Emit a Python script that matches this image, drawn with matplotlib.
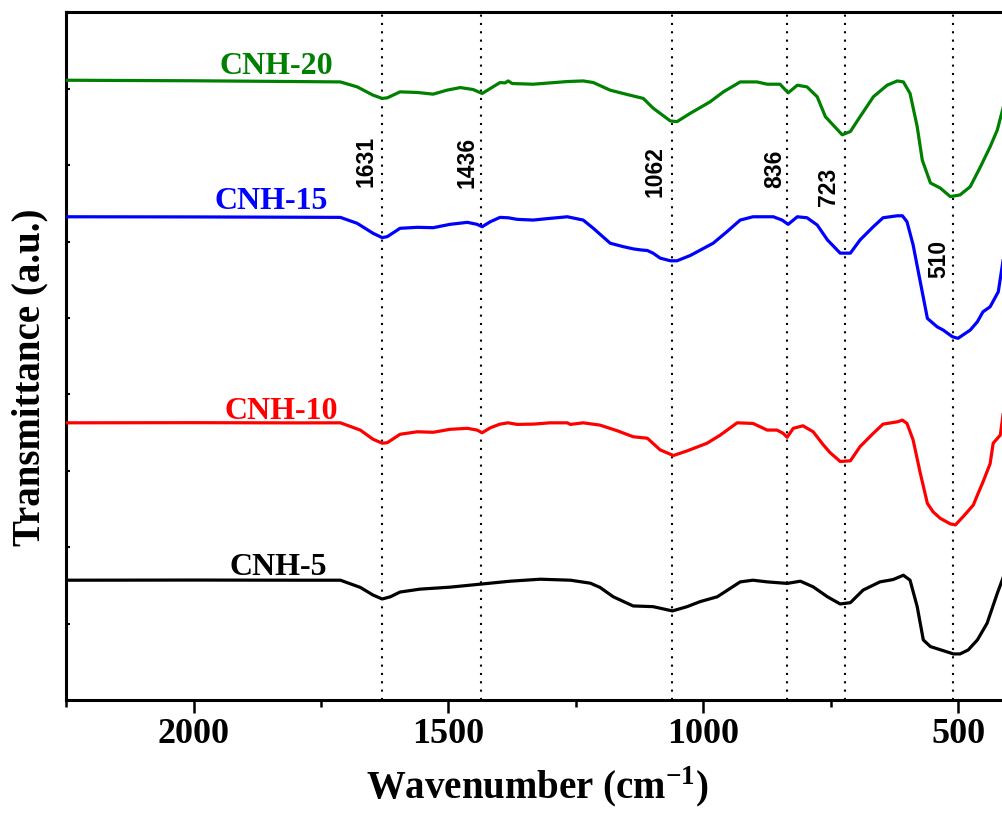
import numpy as np
import matplotlib
matplotlib.use('Agg')
import matplotlib.pyplot as plt
from matplotlib.ticker import MultipleLocator

plt.rcParams['font.family'] = 'Liberation Serif'
plt.rcParams['font.weight'] = 'bold'
plt.rcParams['mathtext.fontset'] = 'custom'
plt.rcParams['mathtext.rm'] = 'Liberation Serif:bold'
plt.rcParams['mathtext.bf'] = 'Liberation Serif:bold'

# ---------------- data (stacked/offset spectra) ----------------
w_cnh20 = [2250, 2000, 1800, 1712, 1679, 1648, 1630, 1620, 1595, 1561, 1530, 1503, 1477, 1452,
           1434, 1418, 1399, 1389, 1383, 1375, 1334, 1267, 1236, 1216, 1183, 1150, 1118, 1099,
           1065, 1052, 1026, 987, 961, 928, 895, 875, 850, 834, 816, 797, 777, 761, 746, 728,
           712, 693, 667, 640, 620, 608, 595, 581, 571, 555, 536, 516, 497, 477, 457, 438, 424, 412]
t_cnh20 = [8.112, 8.105, 8.095, 8.090, 8.025, 7.917, 7.874, 7.882, 7.960, 7.952, 7.930, 7.982, 8.016, 7.991,
           7.939, 8.004, 8.082, 8.077, 8.103, 8.069, 8.060, 8.095, 8.103, 8.082, 7.982, 7.926, 7.874, 7.748,
           7.579, 7.570, 7.679, 7.830, 7.960, 8.090, 8.090, 8.060, 8.060, 7.947, 8.047, 8.025, 7.895, 7.635, 7.527, 7.398,
           7.441, 7.635, 7.895, 8.047, 8.103, 8.090, 7.939, 7.505, 7.066, 6.767, 6.702, 6.589, 6.611, 6.719, 6.979, 7.241, 7.460, 7.765]

w_cnh15 = [2250, 2000, 1800, 1712, 1679, 1648, 1630, 1620, 1595, 1561, 1530, 1497, 1463, 1444,
           1434, 1418, 1399, 1383, 1365, 1334, 1301, 1267, 1236, 1216, 1183, 1158, 1138, 1124, 1110,
           1099, 1085, 1065, 1052, 1026, 981, 954, 928, 903, 863, 846, 834, 816, 797, 777, 757, 732,
           712, 693, 667, 648, 620, 610, 601, 589, 575, 561, 542, 530, 512, 501, 477, 463, 452, 438, 422, 412]
t_cnh15 = [6.325, 6.323, 6.319, 6.317, 6.239, 6.109, 6.052, 6.065, 6.174, 6.187, 6.182, 6.226, 6.252, 6.226,
           6.195, 6.260, 6.317, 6.312, 6.291, 6.282, 6.304, 6.325, 6.282, 6.174, 5.979, 5.935, 5.905, 5.892, 5.883,
           5.849, 5.784, 5.749, 5.749, 5.818, 5.979, 6.130, 6.282, 6.325, 6.325, 6.282, 6.226, 6.325, 6.312, 6.217, 6.022, 5.849,
           5.849, 6.022, 6.195, 6.312, 6.338, 6.338, 6.260, 5.957, 5.475, 4.995, 4.885, 4.842, 4.755, 4.734, 4.842, 4.951, 5.081, 5.147, 5.343, 5.780]

w_cnh10 = [2250, 2000, 1800, 1712, 1673, 1648, 1630, 1620, 1595, 1561, 1530, 1497, 1463, 1444,
           1434, 1418, 1399, 1383, 1365, 1334, 1301, 1267, 1261, 1236, 1203, 1169, 1138, 1110, 1085,
           1059, 1032, 993, 967, 934, 903, 875, 856, 844, 836, 824, 805, 785, 765, 752, 732, 712,
           693, 667, 648, 620, 610, 601, 589, 575, 561, 550, 536, 516, 506, 491, 471, 463, 452, 438, 432, 418, 412]
t_cnh10 = [3.628, 3.630, 3.627, 3.628, 3.533, 3.413, 3.361, 3.368, 3.478, 3.511, 3.504, 3.543, 3.556, 3.533,
           3.498, 3.563, 3.611, 3.628, 3.607, 3.611, 3.628, 3.628, 3.607, 3.628, 3.598, 3.524, 3.446, 3.426, 3.274,
           3.200, 3.261, 3.361, 3.468, 3.628, 3.620, 3.533, 3.533, 3.491, 3.439, 3.556, 3.589, 3.511, 3.339, 3.239, 3.122, 3.131,
           3.317, 3.491, 3.611, 3.641, 3.663, 3.620, 3.404, 2.971, 2.573, 2.464, 2.379, 2.305, 2.292, 2.399, 2.551, 2.681, 2.854, 3.093, 3.361, 3.468, 3.771]

w_cnh5 = [2250, 2000, 1800, 1712, 1673, 1648, 1630, 1614, 1595, 1556, 1497, 1438, 1379, 1320,
          1261, 1222, 1203, 1177, 1138, 1099, 1061, 1032, 1007, 973, 928, 903, 875, 836, 810,
          785, 757, 732, 712, 687, 654, 628, 608, 595, 581, 569, 555, 530, 510, 497, 481, 463, 444, 424, 412]
t_cnh5 = [1.568, 1.570, 1.568, 1.568, 1.474, 1.374, 1.322, 1.351, 1.413, 1.451, 1.477, 1.516, 1.555, 1.581,
          1.568, 1.529, 1.474, 1.351, 1.231, 1.222, 1.166, 1.222, 1.287, 1.351, 1.546, 1.568, 1.546, 1.526, 1.555,
          1.481, 1.351, 1.257, 1.274, 1.439, 1.546, 1.577, 1.633, 1.568, 1.222, 0.786, 0.699, 0.646, 0.603, 0.603, 0.655, 0.786, 1.004, 1.395, 1.611]

names = ['CNH-5', 'CNH-10', 'CNH-15', 'CNH-20']
colors = ['black', '#ff0000', '#0000ff', '#008000']
name_x = [1834, 1828, 1848, 1838]
name_y = [1.636, 3.678, 6.427, 8.194]

peaks = [1631, 1436, 1062, 836, 723, 510]
peak_lab_x = [1661, 1463, 1095, 861, 754, 538]
peak_lab_y = [7.055, 7.042, 6.911, 6.950, 6.715, 5.772]

# ---------------- plot ----------------
fig = plt.figure(figsize=(10.03, 8.13), dpi=100)
ax = fig.add_axes([66/1003, 113/813, 943.5/1003, 687.6/813])

for p in peaks:
    ax.axvline(p, color='black', lw=1.5, ls=(0, (1, 3)), zorder=1)

xs = [w_cnh5, w_cnh10, w_cnh15, w_cnh20]
ys = [t_cnh5, t_cnh10, t_cnh15, t_cnh20]
for i in range(4):
    ax.plot(xs[i], ys[i], color=colors[i], lw=2.3, zorder=3, solid_joinstyle='round')
    ax.text(name_x[i], name_y[i], names[i], color=colors[i], fontsize=23,
            fontweight='bold', ha='center', va='baseline')

for i in range(len(peaks)):
    ax.text(peak_lab_x[i], peak_lab_y[i], str(peaks[i]), rotation=90, fontsize=16.5,
            family='Liberation Sans', fontweight='bold', ha='center', va='center')

ax.set_xlim(2250, 400)
ax.set_ylim(0, 9)
ax.xaxis.set_major_locator(MultipleLocator(500))
ax.xaxis.set_minor_locator(MultipleLocator(250))
ax.yaxis.set_major_locator(MultipleLocator(1))
ax.tick_params(axis='x', which='major', direction='out', length=9, width=1.8,
               labelsize=26, pad=4)
ax.tick_params(axis='x', which='minor', direction='out', length=5, width=1.8)
ax.tick_params(axis='y', which='major', direction='in', length=3, width=1.5, labelleft=False)
for s in ax.spines.values():
    s.set_linewidth(2.2)

ax.set_xlabel(r'Wavenumber (cm$^{\mathbf{-1}}$)', fontsize=28, fontweight='bold', va='baseline')
ax.xaxis.set_label_coords(0.5, -0.145)
ax.set_ylabel('Transmittance (a.u.)', fontsize=28, fontweight='bold', va='center')
ax.yaxis.set_label_coords(-0.038, 0.47)

fig.savefig('out.png', dpi=100)
